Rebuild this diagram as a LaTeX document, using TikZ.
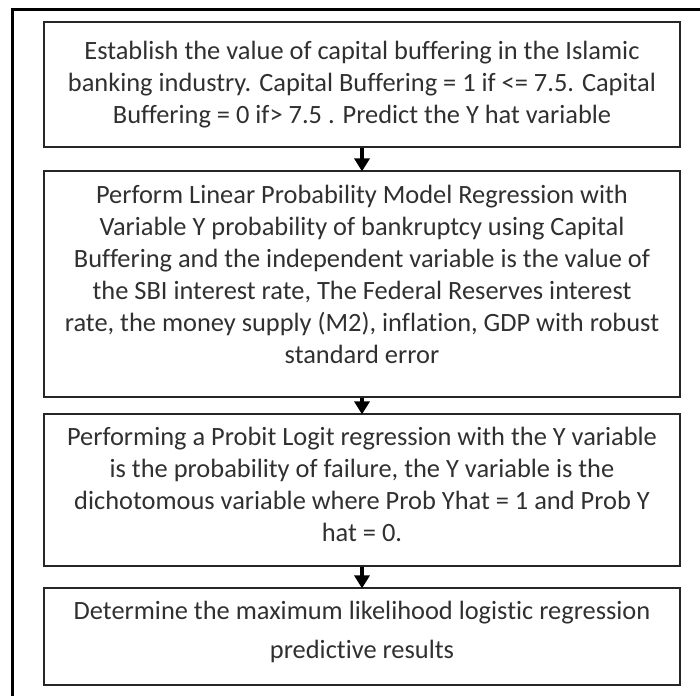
\documentclass[tikz,border=0pt]{standalone}
\usepackage{fontspec}
\setmainfont{Carlito}[Ligatures={NoCommon}]
\usetikzlibrary{arrows.meta}
\definecolor{txt}{HTML}{303030}
\tikzset{
  flowbox/.style={draw=black!85, line width=1.2pt, minimum width=636pt, align=center,
    text=txt, inner sep=0pt, font=\fontsize{26.4}{32}\selectfont},
  flowarrow/.style={line width=3.5pt, -{Triangle[width=15pt,length=13pt]}, shorten >=-1pt},
}
\begin{document}
\begin{tikzpicture}[x=1pt,y=-1pt]
\useasboundingbox (0,0) rectangle (700,695);
\draw[line width=3pt] (12,700) -- (12,10) -- (705,10);
\node[flowbox, minimum height=125pt] (b1) at (362,84.5)
  {Establish the value of capital buffering in the Islamic\\
   banking industry. Capital Buffering = 1 if <= 7.5. Capital\\
   Buffering = 0 if> 7.5 . Predict the Y hat variable};
\node[flowbox, minimum height=226pt, text depth=19pt] (b2) at (362,284)
  {Perform Linear Probability Model Regression with\\
   Variable Y probability of bankruptcy using Capital\\
   Buffering and the independent variable is the value of\\
   the SBI interest rate, The Federal Reserves interest\\
   rate, the money supply (M2), inflation, GDP with robust\\
   standard error};
\node[flowbox, minimum height=152pt, text depth=11pt] (b3) at (362,490)
  {Performing a Probit Logit regression with the Y variable\\
   is the probability of failure, the Y variable is the\\
   dichotomous variable where Prob Yhat = 1 and Prob Y\\
   hat = 0.};
\node[flowbox, minimum height=97pt, text depth=14pt, font=\fontsize{26.4}{39}\selectfont] (b4) at (362,636.5)
  {Determine the maximum likelihood logistic regression\\
   predictive results};
\draw[flowarrow] (b1.south) -- (b2.north);
\draw[flowarrow] (b2.south) -- (b3.north);
\draw[flowarrow] (b3.south) -- (b4.north);
\end{tikzpicture}
\end{document}
